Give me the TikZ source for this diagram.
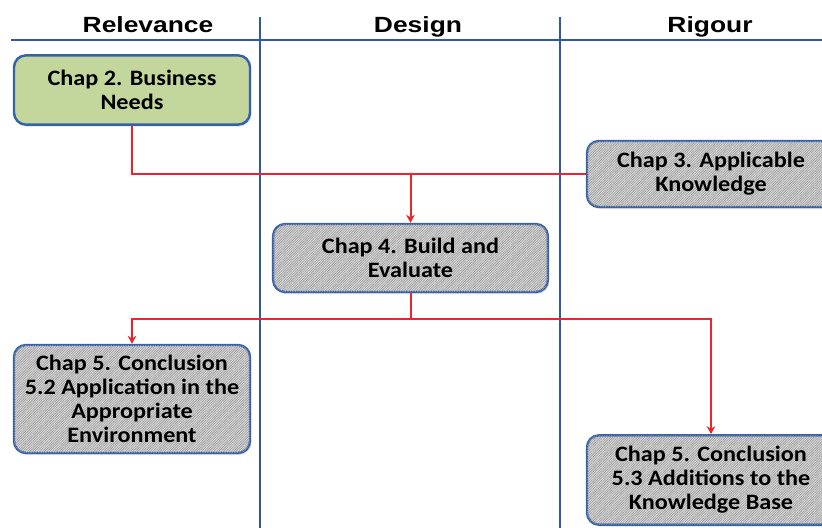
\documentclass[tikz,border=0pt]{standalone}
\usepackage{fontspec}
\setmainfont{Carlito}[FakeStretch=1.1]
\newfontfamily\headfont{Liberation Sans}[FakeStretch=1.2]
\usepackage{tikz}
\usetikzlibrary{arrows.meta,calc,positioning,patterns.meta,shadows}
\definecolor{laneblue}{HTML}{3056A8}
\definecolor{boxblue}{HTML}{3460AC}
\definecolor{flowred}{HTML}{E8262B}
\definecolor{needgreen}{HTML}{C3D69B}
\newcommand{\boxfont}{\fontsize{16.5}{18}\selectfont\bfseries}

\tikzset{
  lane/.style={draw=laneblue, line width=1.5pt, -},
  chapbox/.style={draw=boxblue, line width=1.8pt, rounded corners=9pt, align=center,
    font=\boxfont, inner sep=2pt,
    drop shadow={opacity=0.25, shadow xshift=1pt, shadow yshift=-1.5pt}},
  greybox/.style={chapbox, fill=gray!30,
    postaction={pattern={Lines[angle=45,distance=1.3pt,line width=.45pt]}, pattern color=gray!80}},
  greenbox/.style={chapbox, fill=needgreen},
  head/.style={anchor=base, font=\headfont\bfseries\fontsize{16.5}{20}\selectfont}
}

\begin{document}
\begin{tikzpicture}[->,>={Stealth[length=6pt,width=6.5pt]},x=0.75pt,y=-0.75pt, thick]
					\useasboundingbox (0,0) rectangle (822,528);
					
					\node[head] (rel) at (148,33) {Relevance};
					\node[head] (des) at (418,33) {Design};
					\node[head] (rig) at (710,33) {Rigour};
					
					\draw[lane] (11,40) -- (822,40);
					\draw[lane] (260,17) -- (260,528);
					\draw[lane] (560,17) -- (560,528);
					
					\node[greenbox, minimum width=177pt, minimum height=52pt] (needs) at (132,90) {Chap 2. Business\\Needs};
					\node[greybox, minimum width=186pt, minimum height=49.5pt] (know) at (711,174) {Chap 3. Applicable\\Knowledge};
					\node[greybox, minimum width=206pt, minimum height=51pt] (build) at (410.5,258) {Chap 4. Build and\\Evaluate};
					\node[greybox, minimum width=177pt, minimum height=81pt] (appl) at (132,399) {Chap 5. Conclusion\\5.2 Application in the\\Appropriate\\Environment};
					\node[greybox, minimum width=186pt, minimum height=67pt] (addk) at (711,480) {Chap 5. Conclusion\\5.3 Additions to the\\Knowledge Base};
					
					\coordinate (top) at (build.north |- know.west);
					\coordinate (split) at (410.5,319);
					
					\draw[flowred, line width=1.5pt, -] (needs.south) |- (know.west);
					\draw[flowred, line width=1.5pt] (top) -- (build.north);
					\draw[flowred, line width=1.5pt] (build.south) -- (split) -| (appl.north);
					\draw[flowred, line width=1.5pt] (split) -| (addk.north);
\end{tikzpicture}
\end{document}
